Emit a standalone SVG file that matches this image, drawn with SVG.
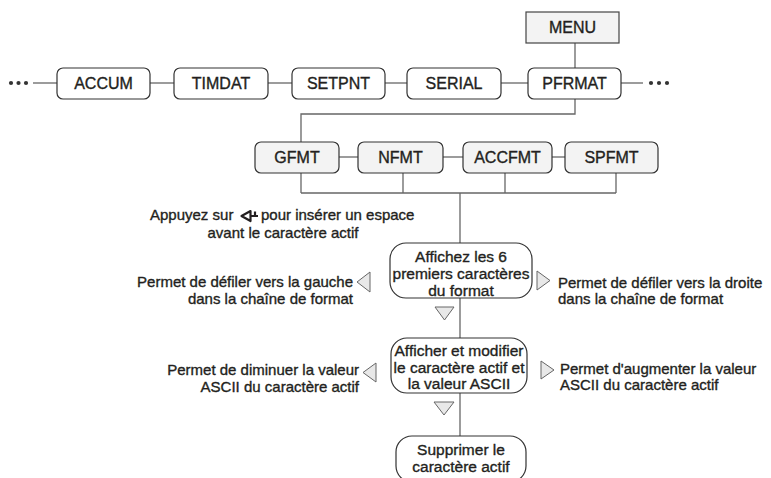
<svg xmlns="http://www.w3.org/2000/svg" width="771" height="478" viewBox="0 0 771 478">
  <style>
    .box { fill: #ffffff; stroke: #333333; stroke-width: 1.2; }
    .sub { fill: #f3f3f3; stroke: #333333; stroke-width: 1.2; }
    .step { fill: #ffffff; stroke: #333333; stroke-width: 1.2; }
    .wire { fill: none; stroke: #666666; stroke-width: 1.3; }
    .key { fill: #e8e8e8; stroke: #666666; stroke-width: 1; stroke-linejoin: miter; }
    text { font-family: "Liberation Sans", Arial, Helvetica, sans-serif; fill: #231f20; stroke: #231f20; stroke-width: 0.35; }
    .lbl { font-size: 16px; text-anchor: middle; }
    .node { font-size: 15.5px; text-anchor: middle; }
    .note { font-size: 15px; }
    .dot { fill: #333333; }
  </style>

  <!-- connectors -->
  <g id="connectors">
    <!-- top menu chain -->
    <line class="wire" x1="33" y1="83" x2="57" y2="83"/>
    <line class="wire" x1="150" y1="83" x2="174" y2="83"/>
    <line class="wire" x1="268" y1="83" x2="292" y2="83"/>
    <line class="wire" x1="385" y1="83" x2="407" y2="83"/>
    <line class="wire" x1="501" y1="83" x2="528" y2="83"/>
    <line class="wire" x1="621" y1="83" x2="643" y2="83"/>
    <line class="wire" x1="575" y1="43" x2="575" y2="68"/>
    <!-- PFRMAT down to the format sub-menu -->
    <polyline class="wire" points="575,99 575,114 301,114 301,142"/>
    <!-- sub-menu chain -->
    <line class="wire" x1="339" y1="157" x2="358" y2="157"/>
    <line class="wire" x1="443" y1="157" x2="463" y2="157"/>
    <line class="wire" x1="552" y1="157" x2="565" y2="157"/>
    <!-- sub-menu collector bus -->
    <line class="wire" x1="301" y1="173" x2="301" y2="193"/>
    <line class="wire" x1="403" y1="173" x2="403" y2="193"/>
    <line class="wire" x1="505" y1="173" x2="505" y2="193"/>
    <line class="wire" x1="616" y1="173" x2="616" y2="193"/>
    <line class="wire" x1="301" y1="193" x2="616" y2="193"/>
    <!-- editing sequence spine -->
    <line class="wire" x1="460" y1="193" x2="460" y2="243"/>
    <line class="wire" x1="460" y1="298" x2="460" y2="338"/>
    <line class="wire" x1="460" y1="393" x2="460" y2="436"/>
  </g>

  <!-- continuation dots -->
  <g id="more-left">
    <circle class="dot" cx="11" cy="83" r="2.1"/>
    <circle class="dot" cx="18.5" cy="83" r="2.1"/>
    <circle class="dot" cx="26" cy="83" r="2.1"/>
  </g>
  <g id="more-right">
    <circle class="dot" cx="651" cy="83" r="2.1"/>
    <circle class="dot" cx="659" cy="83" r="2.1"/>
    <circle class="dot" cx="667" cy="83" r="2.1"/>
  </g>

  <!-- main menu -->
  <g id="menu">
    <rect x="526" y="12" width="93" height="31" fill="#f3f3f3" stroke="#444444" stroke-width="1.2"/>
    <text class="lbl" x="572.5" y="33">MENU</text>
  </g>

  <g id="accum">
    <rect class="box" x="57" y="68" width="93" height="31" rx="6"/>
    <text class="lbl" x="103.5" y="89">ACCUM</text>
  </g>
  <g id="timdat">
    <rect class="box" x="174" y="68" width="94" height="31" rx="6"/>
    <text class="lbl" x="221" y="89">TIMDAT</text>
  </g>
  <g id="setpnt">
    <rect class="box" x="292" y="68" width="93" height="31" rx="6"/>
    <text class="lbl" x="338.5" y="89">SETPNT</text>
  </g>
  <g id="serial">
    <rect class="box" x="407" y="68" width="94" height="31" rx="6"/>
    <text class="lbl" x="454" y="89">SERIAL</text>
  </g>
  <g id="pfrmat">
    <rect class="box" x="528" y="68" width="93" height="31" rx="6"/>
    <text class="lbl" x="574.5" y="89">PFRMAT</text>
  </g>

  <!-- format sub-menu -->
  <g id="gfmt">
    <rect class="sub" x="255" y="142" width="84" height="31" rx="6"/>
    <text class="lbl" x="297" y="163">GFMT</text>
  </g>
  <g id="nfmt">
    <rect class="sub" x="358" y="142" width="85" height="31" rx="6"/>
    <text class="lbl" x="400.5" y="163">NFMT</text>
  </g>
  <g id="accfmt">
    <rect class="sub" x="463" y="142" width="89" height="31" rx="6"/>
    <text class="lbl" x="507.5" y="163">ACCFMT</text>
  </g>
  <g id="spfmt">
    <rect class="sub" x="565" y="142" width="93" height="31" rx="6"/>
    <text class="lbl" x="611.5" y="163">SPFMT</text>
  </g>

  <!-- insert-space hint with the insert key symbol -->
  <g id="hint-insert">
    <text class="note" x="150" y="220">Appuyez sur</text>
    <path d="M250.5,211 L241.5,216 L250.5,221 Z" fill="none" stroke="#231f20" stroke-width="2.2" stroke-linejoin="round"/>
    <path d="M250.5,216 H258 M255,211.5 V216" fill="none" stroke="#231f20" stroke-width="2.2"/>
    <text class="note" x="261" y="220">pour insérer un espace</text>
    <text class="note" x="283" y="238" text-anchor="middle">avant le caractère actif</text>
  </g>

  <!-- step 1 -->
  <g id="show-format">
    <rect class="step" x="390" y="243" width="142" height="55" rx="16"/>
    <text class="node" x="461" y="262">Affichez les 6</text>
    <text class="node" x="461" y="279">premiers caractères</text>
    <text class="node" x="461" y="296">du format</text>
  </g>
  <g id="scroll-left">
    <polygon class="key" points="370,272 357,282 370,292"/>
    <text class="note" x="353" y="287" text-anchor="end">Permet de défiler vers la gauche</text>
    <text class="note" x="353" y="304" text-anchor="end">dans la chaîne de format</text>
  </g>
  <g id="scroll-right">
    <polygon class="key" points="537,271 550,280.5 537,290"/>
    <text class="note" x="558" y="288">Permet de défiler vers la droite</text>
    <text class="note" x="558" y="304">dans la chaîne de format</text>
  </g>
  <g id="next-1">
    <polygon class="key" points="435,307 454,307 444.5,320"/>
  </g>

  <!-- step 2 -->
  <g id="edit-char">
    <rect class="step" x="391" y="338" width="136" height="55" rx="16"/>
    <text class="node" x="459" y="356">Afficher et modifier</text>
    <text class="node" x="459" y="373">le caractère actif et</text>
    <text class="node" x="459" y="389">la valeur ASCII</text>
  </g>
  <g id="decrease">
    <polygon class="key" points="376,363 363,372.5 376,382"/>
    <text class="note" x="359" y="375" text-anchor="end">Permet de diminuer la valeur</text>
    <text class="note" x="359" y="392" text-anchor="end">ASCII du caractère actif</text>
  </g>
  <g id="increase">
    <polygon class="key" points="541,361 554,370 541,379"/>
    <text class="note" x="560" y="374">Permet d'augmenter la valeur</text>
    <text class="note" x="560" y="390">ASCII du caractère actif</text>
  </g>
  <g id="next-2">
    <polygon class="key" points="434,402 454,402 444,415"/>
  </g>

  <!-- step 3 -->
  <g id="delete-char">
    <rect class="step" x="396" y="436" width="130" height="46" rx="16"/>
    <text class="node" x="461" y="455">Supprimer le</text>
    <text class="node" x="461" y="472">caractère actif</text>
  </g>
</svg>
